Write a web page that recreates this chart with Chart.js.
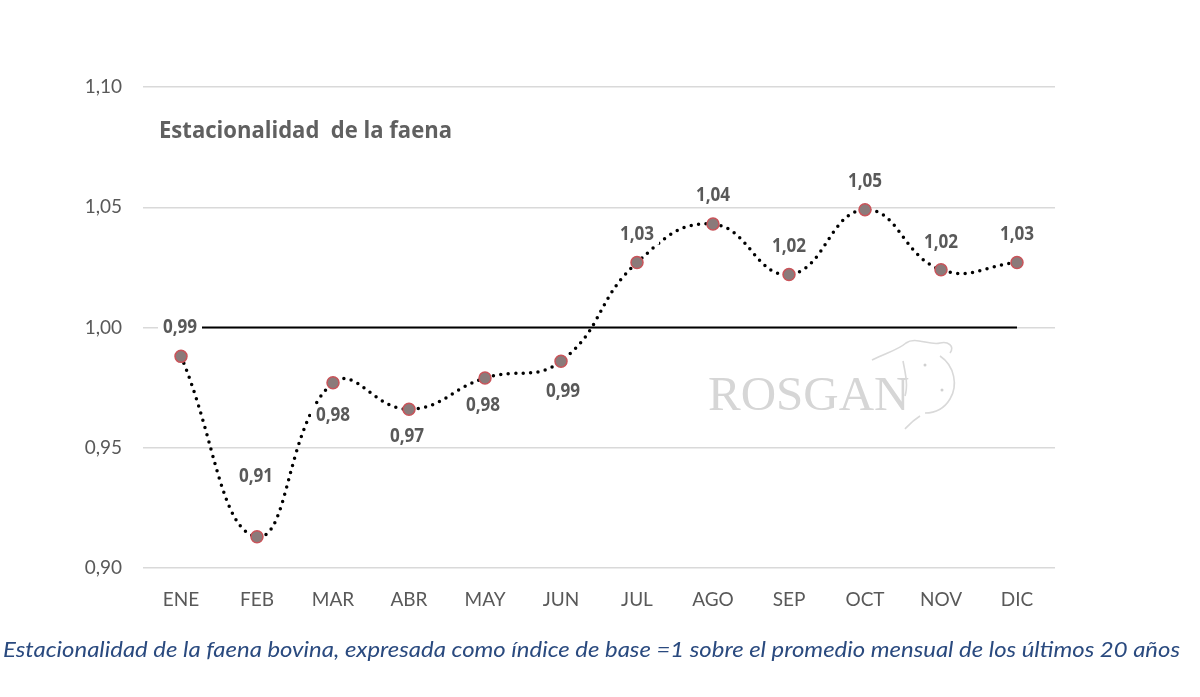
<!DOCTYPE html>
<html><head><meta charset="utf-8">
<script src="https://cdn.jsdelivr.net/npm/chart.js@4/dist/chart.umd.min.js"></script>
<style>html,body{margin:0;padding:0;background:#fff;}#wrap{width:1200px;height:697px;position:relative;}</style>
</head><body><div id="wrap"><canvas id="c" width="1200" height="697"></canvas></div>
<script>
const categories = ['ENE','FEB','MAR','ABR','MAY','JUN','JUL','AGO','SEP','OCT','NOV','DIC'];
const indexValues = [0.988, 0.913, 0.977, 0.966, 0.979, 0.986, 1.027, 1.043, 1.022, 1.049, 1.024, 1.027];
const baseValues = [1,1,1,1,1,1,1,1,1,1,1,1];
const yTicks = [0.90, 0.95, 1.00, 1.05, 1.10];
const chartTitle = 'Estacionalidad  de la faena';
const caption = 'Estacionalidad de la faena bovina, expresada como índice de base =1 sobre el promedio mensual de los últimos 20 años';
const watermark = 'ROSGAN';

// label placement offsets (px) relative to each point
const labelOffsets = [[-1,-29],[-1,-60],[0,33],[-2,27],[-2,28],[2,30],[0,-28],[0,-28],[0,-28],[0,-28],[0,-27],[0,-28]];

const fmt = v => (Math.round(v * 100 + 1e-6) / 100).toFixed(2).replace('.', ',');

const overlay = {
  id: 'overlay',
  beforeDatasetsDraw(chart) {
    const ctx = chart.ctx;
    ctx.save();
    // watermark
    ctx.fillStyle = '#d6d6d6';
    ctx.font = '49px "Liberation Serif", "DejaVu Serif", serif';
    ctx.textBaseline = 'alphabetic';
    ctx.textAlign = 'left';
    ctx.fillText(watermark, 708, 410);
    ctx.strokeStyle = '#d9d9d9';
    ctx.lineWidth = 1.6;
    ctx.beginPath();
    ctx.moveTo(872, 360); ctx.bezierCurveTo(888, 352, 898, 350, 906, 343);
    ctx.bezierCurveTo(915, 336, 930, 346, 940, 343);
    ctx.bezierCurveTo(948, 341, 955, 346, 950, 353);
    ctx.moveTo(940, 356); ctx.bezierCurveTo(955, 366, 958, 386, 950, 399);
    ctx.bezierCurveTo(944, 409, 935, 413, 925, 413);
    ctx.moveTo(920, 416); ctx.bezierCurveTo(912, 421, 908, 426, 905, 429);
    ctx.moveTo(903, 361); ctx.bezierCurveTo(906, 376, 908, 386, 905, 396);
    ctx.stroke();
    ctx.fillStyle = '#d0d0d0';
    ctx.beginPath(); ctx.arc(925, 365, 1.5, 0, Math.PI * 2); ctx.fill();
    ctx.beginPath(); ctx.arc(942, 390, 1.5, 0, Math.PI * 2); ctx.fill();
    ctx.restore();
  },
  afterDatasetsDraw(chart) {
    const ctx = chart.ctx;
    const meta = chart.getDatasetMeta(1);
    ctx.save();
    ctx.font = 'bold 19px "Open Sans", Lato, sans-serif';
    ctx.textAlign = 'center';
    ctx.textBaseline = 'middle';
    meta.data.forEach((pt, i) => {
      const t = fmt(indexValues[i]);
      const x = pt.x + labelOffsets[i][0];
      const y = pt.y + labelOffsets[i][1];
      const w = ctx.measureText(t).width;
      ctx.fillStyle = '#ffffff';
      ctx.fillRect(x - w/2 - 3, y - 10, w + 6, 20);
      ctx.fillStyle = '#595959';
      ctx.save();
      ctx.translate(x, y);
      ctx.scale(0.9, 1);
      ctx.fillText(t, 0, 0);
      ctx.restore();
    });
    // title
    ctx.textAlign = 'left';
    ctx.font = 'bold 24px "Open Sans", Lato, sans-serif';
    ctx.fillStyle = '#606060';
    const tw = ctx.measureText(chartTitle).width;
    ctx.save();
    ctx.translate(159, 131);
    ctx.scale(293 / tw, 1);
    ctx.fillText(chartTitle, 0, 0);
    ctx.restore();
    // caption
    ctx.font = 'italic 21px Lato, "Open Sans", sans-serif';
    ctx.fillStyle = '#2a4a7f';
    const cw = ctx.measureText(caption).width;
    ctx.save();
    ctx.translate(3, 650);
    ctx.scale(1177 / cw, 1);
    ctx.fillText(caption, 0, 0);
    ctx.restore();
    ctx.restore();
  }
};

new Chart(document.getElementById('c'), {
  type: 'line',
  data: {
    labels: categories,
    datasets: [
      {
        data: baseValues,
        borderColor: '#000000',
        borderWidth: 2,
        pointRadius: 0,
        tension: 0,
        order: 2
      },
      {
        data: indexValues,
        borderColor: '#000000',
        borderWidth: 3.5,
        borderDash: [0, 7.5],
        borderCapStyle: 'round',
        tension: 0.45,
        pointRadius: 6,
        pointBackgroundColor: '#8b7a7a',
        pointBorderColor: '#c9545a',
        pointBorderWidth: 1.5,
        order: 1
      }
    ]
  },
  options: {
    responsive: false,
    animation: false,
    devicePixelRatio: 1,
    layout: { padding: { top: 87, left: 0, right: 145, bottom: 0 } },
    plugins: { legend: { display: false }, tooltip: { enabled: false } },
    scales: {
      x: {
        offset: true,
        grid: { display: false, drawTicks: false },
        border: { display: false },
        ticks: { color: '#595959', font: { size: 19, family: 'Lato, "Open Sans", sans-serif' }, padding: 20 },
        afterFit(s) { s.height = 129; }
      },
      y: {
        min: 0.90, max: 1.10,
        afterBuildTicks(s) { s.ticks = yTicks.map(v => ({ value: v })); },
        grid: { color: '#d9d9d9', lineWidth: 1.5, drawTicks: false },
        border: { display: false },
        ticks: { color: '#595959', font: { size: 19, family: 'Lato, "Open Sans", sans-serif' }, padding: 21,
          callback: v => fmt(v) },
        afterFit(s) { s.width = 143; }
      }
    }
  },
  plugins: [overlay]
});
</script>
</body></html>
